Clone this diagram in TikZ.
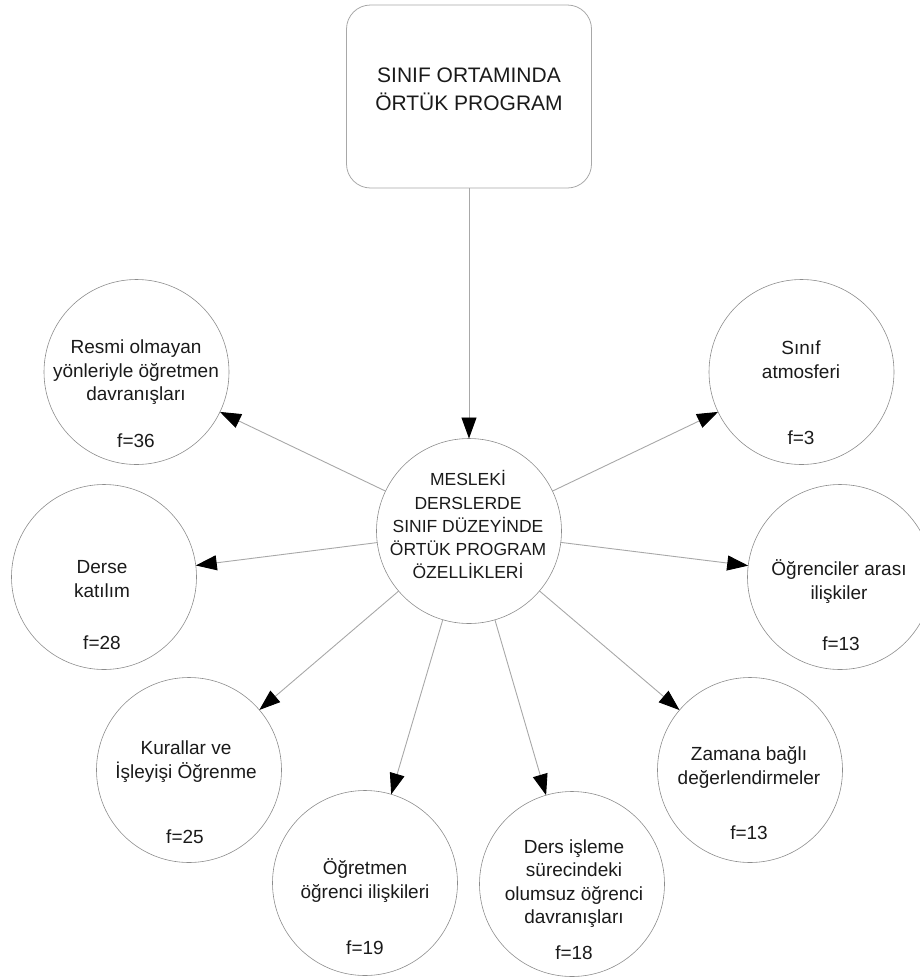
\documentclass[tikz,border=0pt]{standalone}
\usepackage{fontspec}
\setmainfont{Liberation Sans}
\usetikzlibrary{arrows.meta}
\newcommand{\tstrut}{\rule{0pt}{0.98em}}
\newcommand{\bstrut}{\rule[-0.32em]{0pt}{0.32em}}
\definecolor{linegray}{HTML}{A8A8A8}
\definecolor{circgray}{HTML}{8C8C8C}
\definecolor{txt}{HTML}{1A1A1A}
\begin{document}
\begin{tikzpicture}[x=1pt,y=-1pt,
  bubble/.style={circle, draw=circgray, line width=0.6pt, minimum size=185pt, inner sep=0pt, outer sep=0pt},
  lbl/.style={align=center, text=txt, inner sep=0pt, font=\fontsize{19}{23.5}\selectfont},
  midlbl/.style={align=center, text=txt, inner sep=0pt, font=\fontsize{17.5}{23.25}\selectfont},
  toplbl/.style={align=center, text=txt, inner sep=0pt, font=\fontsize{21}{28}\selectfont},
  conn/.style={draw=linegray, line width=0.9pt, -{Triangle[length=21pt,width=15pt,color=black,fill=black]}},
  topbox/.style={draw=linegray, line width=0.8pt, rounded corners=24pt, minimum width=245pt, minimum height=183pt, inner sep=0pt, outer sep=0pt}]
\useasboundingbox (0,0) rectangle (920,978);
% top box
\node[topbox] (top) at (469,96.5) {};
\node[toplbl] (toptext) at (469,90) {\tstrut SINIF ORTAMINDA\\ÖRTÜK PROGRAM\bstrut};
% central circle
\node[bubble] (mid) at (469,531) {};
\node[midlbl] (midtext) at (468,526.5) {\tstrut MESLEKİ\\DERSLERDE\\SINIF DÜZEYİNDE\\ÖRTÜK PROGRAM\\ÖZELLİKLERİ\bstrut};
% outer circles
\node[bubble] (resmi) at (136.5,372) {};
\node[lbl] (resmitext) at (136,371) {\tstrut Resmi olmayan\\yönleriyle öğretmen\\davranışları\bstrut};
\node[lbl] (resmif) at (136,441) {\tstrut f=36\bstrut};

\node[bubble] (sinif) at (801.5,372) {};
\node[lbl] (siniftext) at (801,360) {\tstrut Sınıf\\atmosferi\bstrut};
\node[lbl] (siniff) at (801,438) {\tstrut f=3\bstrut};

\node[bubble] (derse) at (104,577) {};
\node[lbl] (dersetext) at (102,579) {\tstrut Derse\\katılım\bstrut};
\node[lbl] (dersef) at (102,643) {\tstrut f=28\bstrut};

\node[bubble] (ogr) at (840,577) {};
\node[lbl] (ogrtext) at (839,581) {\tstrut Öğrenciler arası\\ilişkiler\bstrut};
\node[lbl] (ogrf) at (841,644) {\tstrut f=13\bstrut};

\node[bubble] (kural) at (189,770) {};
\node[lbl] (kuraltext) at (186,760) {\tstrut Kurallar ve\\İşleyişi Öğrenme\bstrut};
\node[lbl] (kuralf) at (185,837) {\tstrut f=25\bstrut};

\node[bubble] (zaman) at (750,770) {};
\node[lbl] (zamantext) at (749,766) {\tstrut Zamana bağlı\\değerlendirmeler\bstrut};
\node[lbl] (zamanf) at (749,833) {\tstrut f=13\bstrut};

\node[bubble] (ogretmen) at (365,883) {};
\node[lbl] (ogretmentext) at (365,880) {\tstrut Öğretmen\\öğrenci ilişkileri\bstrut};
\node[lbl] (ogretmenf) at (365,948) {\tstrut f=19\bstrut};

\node[bubble] (ders) at (572,884) {};
\node[lbl] (derstext) at (574,882) {\tstrut Ders işleme\\sürecindeki\\olumsuz öğrenci\\davranışları\bstrut};
\node[lbl] (dersf) at (574,953) {\tstrut f=18\bstrut};

% connectors
\draw[conn] (top.south) -- (mid);
\draw[conn] (mid) -- (resmi);
\draw[conn] (mid) -- (sinif);
\draw[conn] (mid) -- (derse);
\draw[conn] (mid) -- (ogr);
\draw[conn] (mid) -- (kural);
\draw[conn] (mid) -- (zaman);
\draw[conn] (mid) -- (ogretmen);
\draw[conn] (mid) -- (ders);
\end{tikzpicture}
\end{document}
